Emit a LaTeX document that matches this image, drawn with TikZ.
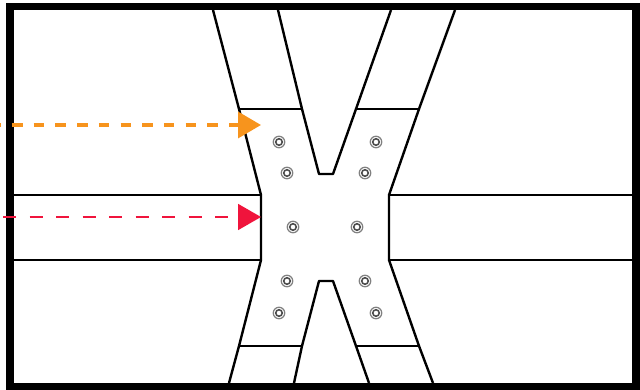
\documentclass[tikz,border=0pt]{standalone}
\usetikzlibrary{arrows.meta}
\definecolor{jointorange}{RGB}{247, 148, 29}
\definecolor{jointred}{RGB}{240, 20, 60}
\tikzset{
  member/.style={line width=2.4pt, black, line join=round},
  boltouter/.style={draw=black!50, fill=white, circle, line width=1.2pt, inner sep=0pt, minimum size=11.5pt},
  boltinner/.style={draw=black!70, fill=white, circle, line width=1.6pt, inner sep=0pt, minimum size=6.5pt}
}
\begin{document}
\begin{tikzpicture}[x=1pt, y=-1pt]
\useasboundingbox (0,0) rectangle (640,390);

% Frame
\draw[line width=7.5pt, black] (9.75,6.75) rectangle (636,386.5);

% Diagonal members (top)
\draw[member] (213,10) -- (239,109) -- (261,195) -- (261,260) -- (239,346) -- (229,383);
\draw[member] (278,10) -- (302,109) -- (319,174) -- (333,174) -- (356,109) -- (391,10);
\draw[member] (455,10) -- (419,109) -- (389,195) -- (389,260) -- (419,346) -- (433,383);

% Diagonal members (bottom)
\draw[member] (294,383) -- (302,346) -- (319,281) -- (333,281) -- (356,346) -- (369,383);

% Plate edges
\draw[member] (239,109) -- (302,109);
\draw[member] (356,109) -- (419,109);
\draw[member] (239,346) -- (302,346);
\draw[member] (356,346) -- (419,346);

% Beams
\draw[member] (13,195) -- (261,195);
\draw[member] (13,260) -- (261,260);
\draw[member] (389,195) -- (633,195);
\draw[member] (389,260) -- (633,260);

% Bolts
\foreach \name/\bx/\by in {a/279/142, b/376/142, c/287/173, d/365/173, e/293/227, f/357/227, g/287/281, h/365/281, i/279/313, j/376/313} {
  \node[boltouter] (bolt\name) at (\bx,\by) {};
  \node[boltinner] (hole\name) at (\bx,\by) {};
}

% Arrows
\coordinate (orangestart) at (0,125);
\coordinate (orangeend) at (261,125);
\coordinate (redstart) at (3,217);
\coordinate (redend) at (261,217);
\draw[-{Triangle[length=23pt, width=26pt]}, jointorange, line width=3.5pt, dash pattern=on 10.5pt off 11.2pt, dash phase=9.7pt] (orangestart) -- (orangeend);
\draw[-{Triangle[length=23pt, width=26pt]}, jointred, line width=1.8pt, dash pattern=on 13pt off 13.5pt] (redstart) -- (redend);
\end{tikzpicture}
\end{document}
